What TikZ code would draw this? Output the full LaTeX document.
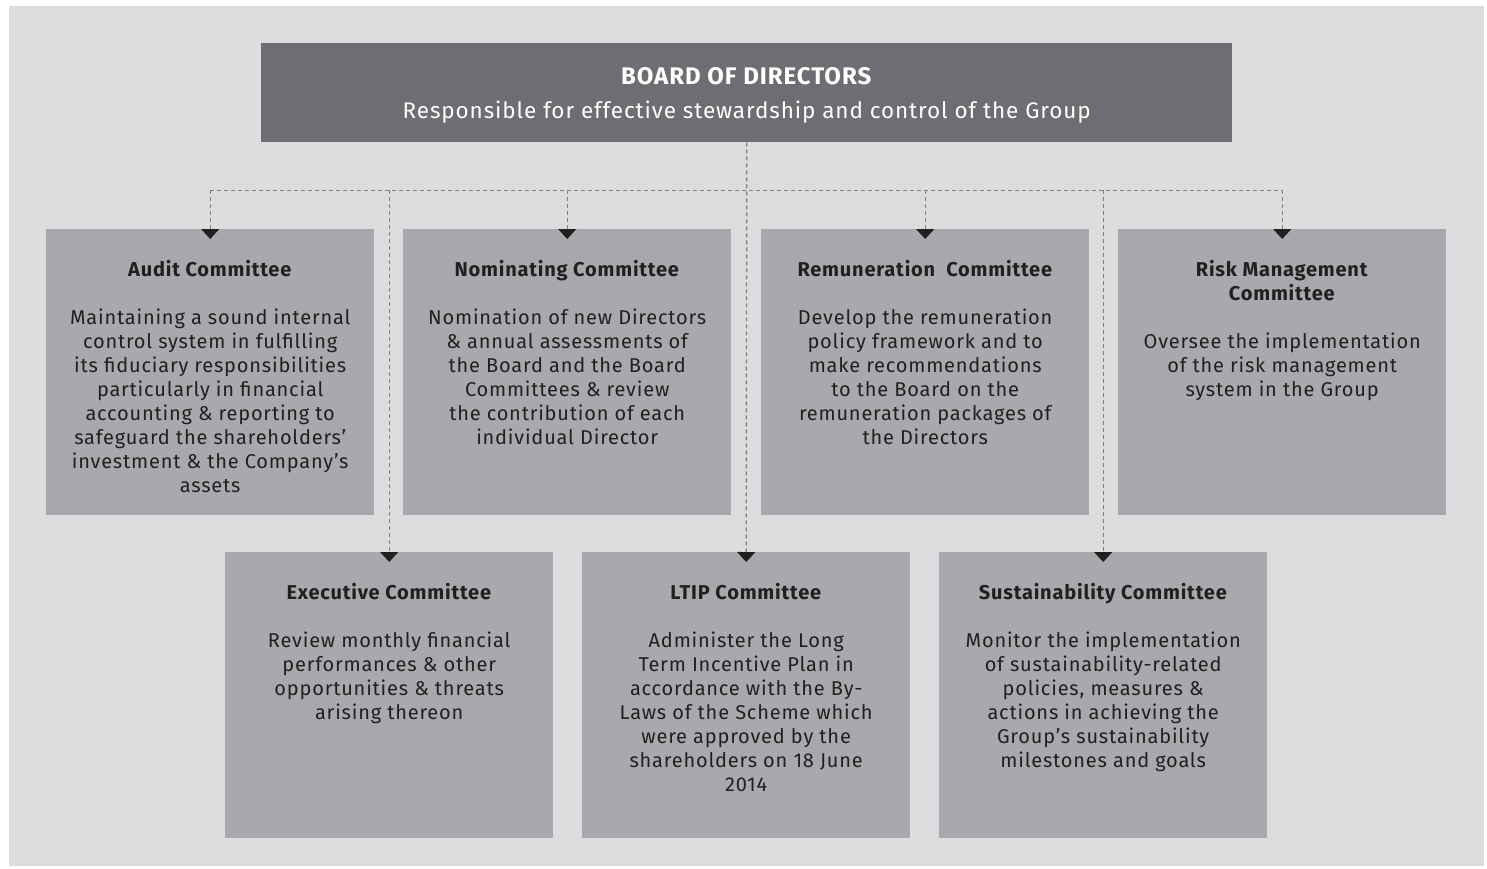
\documentclass[tikz,border=0pt]{standalone}
\usepackage{fontspec}
\setmainfont{Fira Sans}[LetterSpace=4]
\usetikzlibrary{arrows.meta,calc}
\definecolor{bgc}{HTML}{DCDDDF}
\definecolor{boxc}{HTML}{A7A9AC}
\definecolor{boardc}{HTML}{6D6E71}
\definecolor{txtc}{HTML}{231F20}
\definecolor{dashc}{HTML}{808285}
\newcommand\bodyfont{\fontsize{20}{24}\selectfont}
\begin{document}
\begin{tikzpicture}[x=1pt,y=-1pt,
  committee/.style={fill=boxc, draw=none, minimum width=328pt, minimum height=286pt, inner sep=0pt, anchor=north west},
  link/.style={draw=dashc, line width=1.4pt, dash pattern=on 4pt off 3pt},
  tip/.style={link, -{Triangle[width=18pt,length=10pt,color=txtc,fill=txtc]}},
  label/.style={anchor=base, inner sep=0pt, text=txtc}
]
\useasboundingbox (0,0) rectangle (1487,869);
\fill[white] (0,0) rectangle (1487,869);
\fill[bgc] (9,6) rectangle (1484,866);

% boxes
\node[fill=boardc, minimum width=971pt, minimum height=99pt, inner sep=0pt, anchor=north west] (board) at (261,43) {};
\node[committee] (audit) at (46,229) {};
\node[committee] (nom) at (403,229) {};
\node[committee] (rem) at (761,229) {};
\node[committee] (risk) at (1118,229) {};
\node[committee] (exec) at (225,552) {};
\node[committee] (ltip) at (582,552) {};
\node[committee] (sust) at (939,552) {};

% board text
\node[anchor=base, inner sep=0pt, text=white] (boardtitle) at ($(board.north)+(0,42)$) {\fontsize{24}{24}\selectfont\textbf{BOARD OF DIRECTORS}};
\node[anchor=base, inner sep=0pt, text=white] (boardsub) at ($(board.north)+(0,76)$) {\fontsize{22.5}{24}\selectfont Responsible for effective stewardship and control of the Group};

% committee texts
\node[label] (audittxt) at ($(audit.north)+(0,47)$) {\parbox[t]{320pt}{\centering\bodyfont
\textbf{Audit Committee}\\[24pt]
Maintaining a sound internal\\
control system in fulfilling\\
its fiduciary responsibilities\\
particularly in financial\\
accounting \& reporting to\\
safeguard the shareholders’\\
investment \& the Company’s\\
assets}};
\node[label] (nomtxt) at ($(nom.north)+(0,47)$) {\parbox[t]{320pt}{\centering\bodyfont
\textbf{Nominating Committee}\\[24pt]
Nomination of new Directors\\
\& annual assessments of\\
the Board and the Board\\
Committees \& review\\
the contribution of each\\
individual Director}};
\node[label] (remtxt) at ($(rem.north)+(0,47)$) {\parbox[t]{320pt}{\centering\bodyfont
\textbf{Remuneration\ \ Committee}\\[24pt]
Develop the remuneration\\
policy framework and to\\
make recommendations\\
to the Board on the\\
remuneration packages of\\
the Directors}};
\node[label] (risktxt) at ($(risk.north)+(0,47)$) {\parbox[t]{320pt}{\centering\bodyfont
\textbf{Risk Management}\\
\textbf{Committee}\\[24pt]
Oversee the implementation\\
of the risk management\\
system in the Group}};
\node[label] (exectxt) at ($(exec.north)+(0,47)$) {\parbox[t]{320pt}{\centering\bodyfont
\textbf{Executive Committee}\\[24pt]
Review monthly financial\\
performances \& other\\
opportunities \& threats\\
arising thereon}};
\node[label] (ltiptxt) at ($(ltip.north)+(0,47)$) {\parbox[t]{320pt}{\centering\bodyfont
\textbf{LTIP Committee}\\[24pt]
Administer the Long\\
Term Incentive Plan in\\
accordance with the By-\\
Laws of the Scheme which\\
were approved by the\\
shareholders on 18 June\\
2014}};
\node[label] (susttxt) at ($(sust.north)+(0,47)$) {\parbox[t]{320pt}{\centering\bodyfont
\textbf{Sustainability Committee}\\[24pt]
Monitor the implementation\\
of sustainability-related\\
policies, measures \&\\
actions in achieving the\\
Group’s sustainability\\
milestones and goals}};

% connectors
\coordinate (bus) at ($(board.south)+(0,48)$);
\draw[link] (audit.north |- bus) -- (risk.north |- bus);
\draw[tip] (board.south) -- ($(ltip.north)+(0,10)$);
\draw[tip] (audit.north |- bus) -- ($(audit.north)+(0,10)$);
\draw[tip] (nom.north |- bus) -- ($(nom.north)+(0,10)$);
\draw[tip] (rem.north |- bus) -- ($(rem.north)+(0,10)$);
\draw[tip] (risk.north |- bus) -- ($(risk.north)+(0,10)$);
\draw[tip] (exec.north |- bus) -- ($(exec.north)+(0,10)$);
\draw[tip] (sust.north |- bus) -- ($(sust.north)+(0,10)$);
\end{tikzpicture}
\end{document}
